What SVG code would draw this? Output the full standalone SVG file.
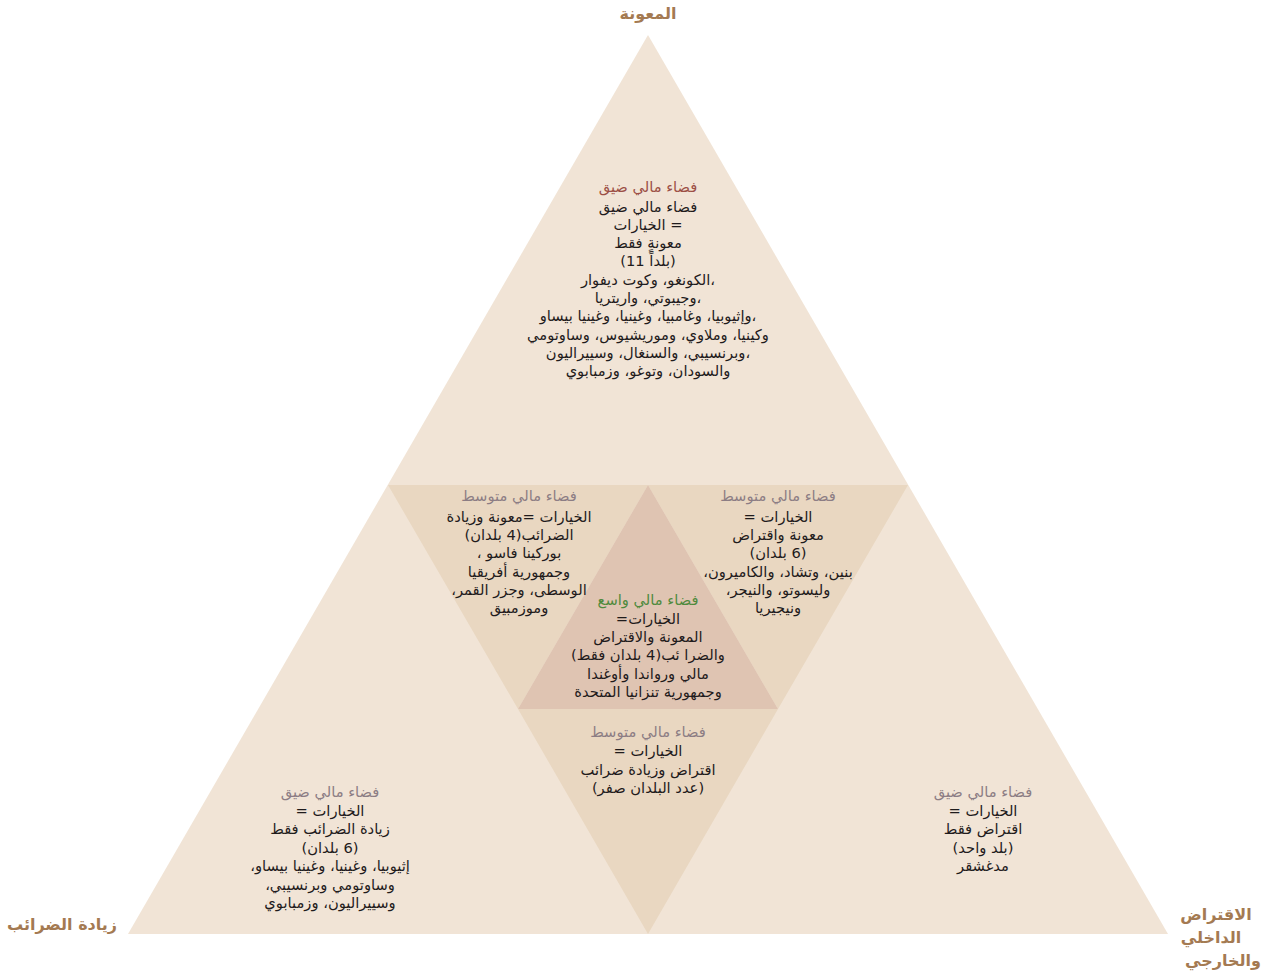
<svg xmlns="http://www.w3.org/2000/svg" width="1274" height="973" viewBox="0 0 1274 973">
<style>
.light{fill:#f1e4d6}
.mid{fill:#e9d7c1}
.core{fill:#dfc4b2}
text{font-family:"DejaVu Sans",sans-serif;font-size:14.7px;text-anchor:middle;fill:#1f1b1c;direction:rtl}
.t-red{fill:#9c4f45}
.t-grey{fill:#8c7d84}
.t-green{fill:#4f8a3d}
.corner{fill:#a47a52;font-size:16px;font-weight:bold}
</style>
<rect width="1274" height="973" fill="#ffffff"/>
<g id="shapes">
<polygon class="light" points="648,35 128,934 1168,934"/>
<polygon class="mid" points="388,485 648,485 518,709"/>
<polygon class="mid" points="648,485 908,485 778,709"/>
<polygon class="mid" points="518,709 778,709 648,934"/>
<polygon class="core" points="648,485 518,709 778,709"/>
</g>
<g id="label-aid"><text class="corner" x="648" y="19">المعونة</text></g>
<g id="label-tax"><text class="corner" x="62" y="930">زيادة الضرائب</text></g>
<g id="label-borrow">
<text class="corner" x="1216" y="920">الاقتراض</text>
<text class="corner" x="1211" y="943">الداخلي</text>
<text class="corner" x="1223" y="966">والخارجي</text>
</g>
<g id="node-top">
<text class="t-red" x="648" y="192">فضاء مالي ضيق</text>
<text x="648" y="212">فضاء مالي ضيق</text>
<text x="648" y="230">= الخيارات</text>
<text x="648" y="248">معونةٍ فقط</text>
<text x="648" y="266">(بلداً 11)</text>
<text x="648" y="285">،الكونغو، وكوت ديفوار</text>
<text x="648" y="303">،وجيبوتي، واريتريا</text>
<text x="648" y="321">،وإثيوبيا، وغامبيا، وغينيا، وغينيا بيساو</text>
<text x="648" y="340">وكينيا، وملاوي، وموريشيوس، وساوتومي</text>
<text x="648" y="358">،وبرنسيبي، والسنغال، وسييراليون</text>
<text x="648" y="376">والسودان، وتوغو، وزمبابوي</text>
</g>
<g id="node-left-mid">
<text class="t-grey" x="519" y="501">فضاء مالي متوسط</text>
<text x="519" y="522">الخيارات =معونة وزيادة</text>
<text x="519" y="540">الضرائب(4 بلدان)</text>
<text x="519" y="558">بوركينا فاسو ،</text>
<text x="519" y="577">وجمهورية أفريقيا</text>
<text x="519" y="595">الوسطى، وجزر القمر،</text>
<text x="519" y="613">وموزمبيق</text>
</g>
<g id="node-right-mid">
<text class="t-grey" x="778" y="501">فضاء مالي متوسط</text>
<text x="778" y="522">الخيارات =</text>
<text x="778" y="540">معونة واقتراض</text>
<text x="778" y="558">(6 بلدان)</text>
<text x="778" y="577">بنين، وتشاد، والكاميرون،</text>
<text x="778" y="595">وليسوتو، والنيجر،</text>
<text x="778" y="613">ونيجيريا</text>
</g>
<g id="node-center">
<text class="t-green" x="648" y="605">فضاء مالي واسع</text>
<text x="648" y="624">الخيارات=</text>
<text x="648" y="642">المعونة والاقتراض</text>
<text x="648" y="660">والضرا ئب(4 بلدان فقط)</text>
<text x="648" y="679">مالي ورواندا وأوغندا</text>
<text x="648" y="697">وجمهورية تنزانيا المتحدة</text>
</g>
<g id="node-bottom-center">
<text class="t-grey" x="648" y="737">فضاء مالي متوسط</text>
<text x="648" y="756">الخيارات =</text>
<text x="648" y="775">اقتراض وزيادة ضرائب</text>
<text x="648" y="793">(عدد البلدان صفر)</text>
</g>
<g id="node-bottom-left">
<text class="t-grey" x="330" y="797">فضاء مالي ضيق</text>
<text x="330" y="816">الخيارات =</text>
<text x="330" y="834">زيادة الضرائب فقط</text>
<text x="330" y="853">(6 بلدان)</text>
<text x="330" y="871">إثيوبيا، وغينيا، وغينيا بيساو،</text>
<text x="330" y="890">وساوتومي وبرنسيبي،</text>
<text x="330" y="908">وسييراليون، وزمبابوي</text>
</g>
<g id="node-bottom-right">
<text class="t-grey" x="983" y="797">فضاء مالي ضيق</text>
<text x="983" y="816">الخيارات =</text>
<text x="983" y="834">اقتراض فقط</text>
<text x="983" y="853">(بلد واحد)</text>
<text x="983" y="871">مدغشقر</text>
</g>
<g id="connectors"/>
</svg>
